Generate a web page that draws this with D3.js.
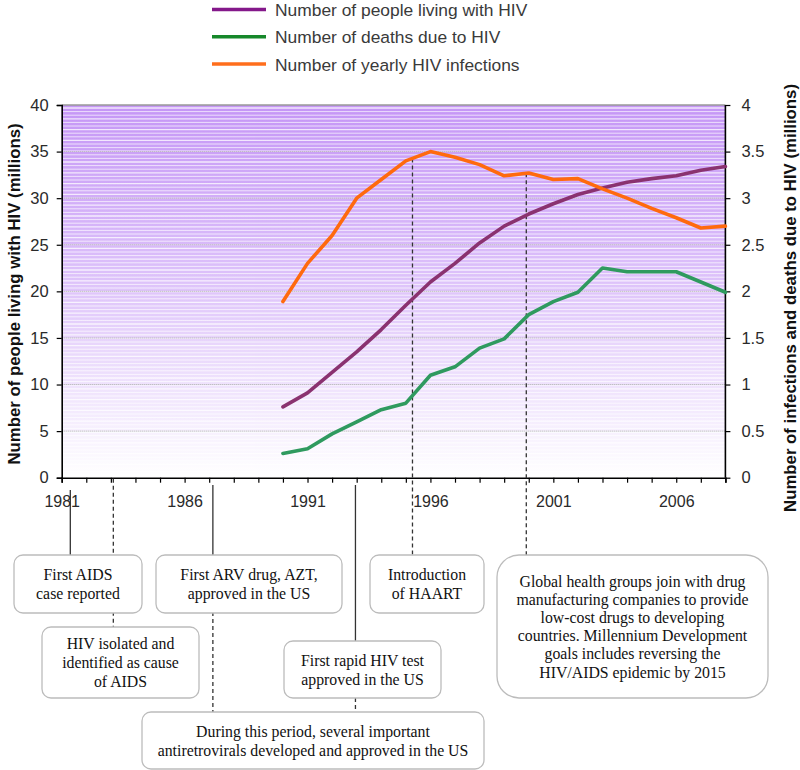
<!DOCTYPE html>
<html><head><meta charset="utf-8">
<script src="https://cdn.jsdelivr.net/npm/d3@7"></script>
<style>body{margin:0;background:#fff}svg{display:block}</style>
</head><body>
<svg id="c" width="800" height="770"></svg>
<script>
// ---- data ----
const years = [1990,1991,1992,1993,1994,1995,1996,1997,1998,1999,2000,2001,2002,2003,2004,2005,2006,2007,2008];
const living = [7.6,9.1,11.3,13.5,15.9,18.5,21.0,23.0,25.2,27.0,28.3,29.4,30.4,31.1,31.7,32.1,32.4,33.0,33.4];
const deaths = [0.26,0.31,0.47,0.60,0.73,0.80,1.10,1.19,1.39,1.49,1.75,1.89,1.99,2.25,2.21,2.21,2.21,2.10,1.99];
const infections = [1.89,2.30,2.60,3.00,3.20,3.40,3.50,3.44,3.36,3.24,3.27,3.20,3.21,3.10,3.00,2.89,2.79,2.68,2.70];
const leftTicks = [0,5,10,15,20,25,30,35,40];
const rightTicks = [0,0.5,1,1.5,2,2.5,3,3.5,4];
const xLabelYears = [1981,1986,1991,1996,2001,2006];
const seriesNames = ["Number of people living with HIV","Number of deaths due to HIV","Number of yearly HIV infections"];
const eventYears = [1981.35, 1983.1, 1987.15, 1992.95, 1995.27, 1999.9];
const eventTexts = [
  ["First AIDS","case reported"],
  ["HIV isolated and","identified as cause","of AIDS"],
  ["First ARV drug, AZT,","approved in the US"],
  ["First rapid HIV test","approved in the US"],
  ["Introduction","of HAART"],
  ["Global health groups join with drug","manufacturing companies to provide","low-cost drugs to developing","countries. Millennium Development","goals includes reversing the","HIV/AIDS epidemic by 2015"]
];
const periodText = ["During this period, several important","antiretrovirals developed and approved in the US"];

// ---- layout ----
const svg = d3.select("#c");
const L = 61.7, R = 725.4, T = 105, B = 477.7;
const x = d3.scaleLinear().domain([1981,2008]).range([L,R]);
const yL = d3.scaleLinear().domain([0,40]).range([B,T]);
const yR = d3.scaleLinear().domain([0,4]).range([B,T]);
const colors = ["#8a3270","#2f9a5f","#ff6a0e"];
const legendColors = ["#84188a","#16882a","#ff6e1c"];
const sans = "Arial, 'Liberation Sans', sans-serif";

// background gradient
const defs = svg.append("defs");
const g = defs.append("linearGradient").attr("id","bg").attr("x1",0).attr("y1",0).attr("x2",0).attr("y2",1);
g.append("stop").attr("offset","0%").attr("stop-color","#c596f6");
g.append("stop").attr("offset","45%").attr("stop-color","#dcc0fa");
g.append("stop").attr("offset","100%").attr("stop-color","#ffffff");
defs.append("clipPath").attr("id","clip").append("rect").attr("x",L).attr("y",T).attr("width",R-L).attr("height",B-T);
svg.append("rect").attr("x",L).attr("y",T).attr("width",R-L).attr("height",B-T).attr("fill","url(#bg)");
// banding stripes
const stripes = svg.append("g").attr("clip-path","url(#clip)");
d3.range(T+3, B, 3.6).forEach((yy,i)=>{
  stripes.append("line").attr("x1",L).attr("x2",R).attr("y1",yy).attr("y2",yy)
    .attr("stroke","#fff").attr("stroke-width",i%3===0?1.3:0.9).attr("opacity",0.75);
});
// gridlines
svg.append("g").selectAll("line").data(leftTicks.filter(d=>d>0 && d<40)).join("line")
  .attr("x1",L).attr("x2",R).attr("y1",d=>yL(d)).attr("y2",d=>yL(d))
  .attr("stroke","#aaa").attr("stroke-width",1).attr("stroke-dasharray","1,1");
svg.append("line").attr("x1",L).attr("x2",R).attr("y1",T).attr("y2",T).attr("stroke","#999").attr("stroke-width",1.5);

// axes
const axL = svg.append("g").attr("transform",`translate(${L},0)`)
  .call(d3.axisLeft(yL).tickValues(leftTicks).tickSize(5).tickFormat(d3.format("d")));
const axR = svg.append("g").attr("transform",`translate(${R},0)`)
  .call(d3.axisRight(yR).tickValues(rightTicks).tickSize(5).tickFormat(d=>String(d)));
const axB = svg.append("g").attr("transform",`translate(0,${B})`)
  .call(d3.axisBottom(x).tickValues(d3.range(1981,2009)).tickSize(5)
    .tickFormat(d=>xLabelYears.includes(d)?String(d):""));
[axL,axR,axB].forEach(a=>{
  a.selectAll("path.domain").attr("stroke","#000").attr("stroke-width",1.6);
  a.selectAll(".tick line").attr("stroke","#000").attr("stroke-width",1.2);
  a.selectAll("text").attr("font-family",sans).attr("font-size",16.5).attr("fill","#2a2a2a");
});
axB.selectAll("text").attr("font-size",16);
axL.selectAll("text").attr("x",-13);
axR.selectAll("text").attr("x",16);
axB.selectAll("text").attr("y",18);
axR.select("path.domain").remove();
svg.append("line").attr("x1",R).attr("x2",R).attr("y1",T).attr("y2",B).attr("stroke","#000").attr("stroke-width",1.6);

// axis titles
svg.append("text").attr("transform",`translate(20,294) rotate(-90)`).attr("text-anchor","middle")
  .attr("font-family",sans).attr("font-weight","bold").attr("font-size",16.8).attr("fill","#111")
  .text("Number of people living with HIV (millions)");
svg.append("text").attr("transform",`translate(796,298) rotate(-90)`).attr("text-anchor","middle")
  .attr("font-family",sans).attr("font-weight","bold").attr("font-size",16.8).attr("fill","#111")
  .text("Number of infections and deaths due to HIV (millions)");

// annotation connector lines
const orangeAt = yr => {
  const i = d3.bisectLeft(years, yr);
  const y0 = years[i-1], y1 = years[i];
  const t = (yr-y0)/(y1-y0);
  return yR(infections[i-1] + t*(infections[i]-infections[i-1]));
};
const conn = svg.append("g").attr("stroke","#333").attr("stroke-width",1.3);
const boxTop = [555,627,555,641,555,555];
// solid lines
conn.append("line").attr("x1",x(eventYears[0])).attr("x2",x(eventYears[0])).attr("y1",490).attr("y2",boxTop[0]);
conn.append("line").attr("x1",x(eventYears[2])).attr("x2",x(eventYears[2])).attr("y1",485).attr("y2",boxTop[2]);
conn.append("line").attr("x1",x(eventYears[3])).attr("x2",x(eventYears[3])).attr("y1",485).attr("y2",boxTop[3]);
// dashed lines
const dash = "4,3";
conn.append("line").attr("x1",x(eventYears[1])).attr("x2",x(eventYears[1])).attr("y1",B+1).attr("y2",boxTop[1]).attr("stroke-dasharray",dash);
conn.append("line").attr("x1",x(eventYears[2])).attr("x2",x(eventYears[2])).attr("y1",612).attr("y2",712).attr("stroke-dasharray",dash);
conn.append("line").attr("x1",x(eventYears[3])).attr("x2",x(eventYears[3])).attr("y1",698).attr("y2",712).attr("stroke-dasharray",dash);
conn.append("line").attr("x1",x(eventYears[4])).attr("x2",x(eventYears[4])).attr("y1",orangeAt(eventYears[4])).attr("y2",boxTop[4]).attr("stroke-dasharray",dash);
conn.append("line").attr("x1",x(eventYears[5])).attr("x2",x(eventYears[5])).attr("y1",orangeAt(eventYears[5])).attr("y2",boxTop[5]).attr("stroke-dasharray",dash);

// series lines
const allSeries = [{v:living,s:yL},{v:deaths,s:yR},{v:infections,s:yR}];
allSeries.forEach((ser,k)=>{
  const line = d3.line().x((d,i)=>x(years[i])).y(d=>ser.s(d));
  svg.append("path").datum(ser.v).attr("d",line).attr("fill","none")
    .attr("stroke",colors[k]).attr("stroke-width",3.6).attr("stroke-linejoin","round").attr("stroke-linecap","round");
});

// legend
const lg = svg.append("g");
seriesNames.forEach((n,i)=>{
  const yy = 9.5 + i*27.3;
  lg.append("line").attr("x1",212).attr("x2",266).attr("y1",yy).attr("y2",yy).attr("stroke",legendColors[i]).attr("stroke-width",3.5);
  lg.append("text").attr("x",275).attr("y",yy+6.5).attr("font-family",sans)
    .attr("font-size",17.4).attr("fill","#3a3a3a").text(n);
});

// boxes
const boxes = [
  {x:14,y:555,w:128,h:58,r:9,t:eventTexts[0]},
  {x:42,y:627,w:157,h:71,r:9,t:eventTexts[1]},
  {x:156,y:555,w:186,h:58,r:9,t:eventTexts[2]},
  {x:284,y:641,w:157,h:57,r:9,t:eventTexts[3]},
  {x:142,y:712,w:342,h:57,r:9,t:periodText},
  {x:370,y:555,w:114,h:58,r:9,t:eventTexts[4]},
  {x:497,y:555,w:271,h:143,r:22,t:eventTexts[5]}
];
const bg = svg.append("g");
boxes.forEach(b=>{
  bg.append("rect").attr("x",b.x).attr("y",b.y).attr("width",b.w).attr("height",b.h).attr("rx",b.r)
    .attr("fill","#fff").attr("stroke","#bcbcbc").attr("stroke-width",1.3);
  const lh = b.t.length>3 ? 18.2 : 19;
  const y0 = b.y + b.h/2 - (b.t.length-1)*lh/2 + 5.5;
  b.t.forEach((s,i)=>{
    bg.append("text").attr("x",b.x+b.w/2).attr("y",y0+i*lh).attr("text-anchor","middle")
      .attr("font-family","'Liberation Serif','Times New Roman',serif").attr("font-size",15.8).attr("fill","#111").text(s);
  });
});
</script>
</body></html>
